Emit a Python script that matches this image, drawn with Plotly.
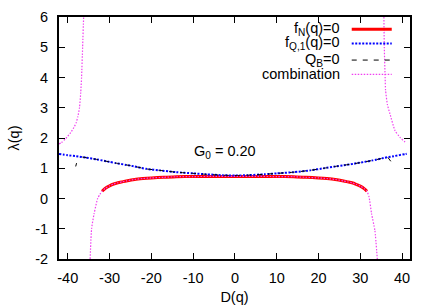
import plotly.graph_objects as go

# ---- data ----
fN_D = [-31.8, -31.0, -30.0, -29.0, -28.0, -27.0, -26.0, -24.0, -22.0, -20.0, -17.0, -14.0,
        -10.0, -5.0, 0.0, 5.0, 10.0, 14.0, 17.0, 20.0, 22.0, 24.0, 26.0, 27.0, 28.0, 29.0,
        30.0, 31.0, 31.6]
fN_L = [0.24, 0.34, 0.42, 0.48, 0.52, 0.55, 0.58, 0.63, 0.66, 0.68, 0.70, 0.72,
        0.725, 0.73, 0.73, 0.73, 0.725, 0.72, 0.70, 0.68, 0.66, 0.63, 0.58, 0.55, 0.52, 0.47,
        0.41, 0.32, 0.24]

fQ_D = [-42.1, -40.0, -38.0, -35.6, -33.0, -30.0, -28.5, -26.0, -24.0, -21.3, -18.0, -14.1,
        -10.0, -6.9, -3.0, 0.0, 3.0, 7.0, 10.0, 14.1, 18.0, 21.3, 24.0, 26.0, 28.5, 31.0,
        33.0, 35.6, 38.0, 40.8, 41.1]
fQ_L = [1.47, 1.43, 1.40, 1.35, 1.29, 1.21, 1.17, 1.11, 1.06, 0.98, 0.93, 0.87,
        0.83, 0.80, 0.77, 0.76, 0.77, 0.80, 0.83, 0.87, 0.93, 1.00, 1.06, 1.10, 1.15, 1.21,
        1.26, 1.34, 1.40, 1.47, 1.48]

# Q_B = 0: main branch (on top of f_Q,1) plus two short pieces near the edges
QB_D = [-36.5, -35.6, -33.0, -30.0, -28.5, -26.0, -24.0, -21.3, -18.0, -14.1, -10.0, -6.9,
        -3.0, 0.0, 3.0, 7.0, 10.0, 14.1, 18.0, 21.3, 24.0, 26.0, 28.5, 31.0, 33.0, 35.6,
        None, -38.1, -37.9, None, 36.6, 37.3]
QB_L = [1.37, 1.35, 1.29, 1.21, 1.17, 1.11, 1.06, 0.98, 0.93, 0.87, 0.83, 0.80,
        0.77, 0.76, 0.77, 0.80, 0.83, 0.87, 0.93, 1.00, 1.06, 1.10, 1.15, 1.21, 1.26, 1.34,
        None, 1.06, 1.17, None, 1.36, 1.23]

comb_D = [-42.1, -41.5, -40.5, -39.3, -38.4, -38.0, -37.6, -37.2, -36.9, -36.7, -36.45, -36.2, -36.0,
          None,
          -34.65, -34.3, -33.7, -32.85, -32.3, -31.8, -31.0, -30.0, -29.0, -28.0, -27.0, -26.0,
          -24.0, -22.0, -20.0, -17.0, -14.0, -10.0, -5.0, 0.0, 5.0, 10.0, 14.0, 17.0, 20.0,
          22.0, 24.0, 26.0, 27.0, 28.0, 29.0, 30.0, 31.0, 31.6, 32.1, 32.7, 33.5, 34.1,
          None,
          35.6, 35.75, 35.95, 36.05, 36.5, 37.1, 38.3, 39.5, 40.7, 40.9]
comb_L = [1.80, 1.85, 1.98, 2.18, 2.38, 2.50, 2.70, 3.00, 3.50, 4.00, 5.00, 6.00, 6.6,
          None,
          -2.0, -1.0, -0.5, 0.0, 0.14, 0.24, 0.34, 0.42, 0.48, 0.52, 0.55, 0.58,
          0.63, 0.66, 0.68, 0.70, 0.72, 0.725, 0.73, 0.73, 0.73, 0.725, 0.72, 0.70, 0.68,
          0.66, 0.63, 0.58, 0.55, 0.52, 0.47, 0.41, 0.32, 0.24, 0.05, -0.5, -1.06, -2.05,
          None,
          6.6, 5.0, 4.0, 3.58, 3.1, 2.8, 2.25, 2.02, 1.87, 1.85]

x_ticks = [-40, -30, -20, -10, 0, 10, 20, 30, 40]
y_ticks = [-2, -1, 0, 1, 2, 3, 4, 5, 6]
legend_names = ["f<sub>N</sub>(q)=0", "f<sub>Q,1</sub>(q)=0", "Q<sub>B</sub>=0", "combination"]
note_text = "G<sub>0</sub> = 0.20"

FONT = "Liberation Sans, Arial, sans-serif"
FS = 14.5
styles = [
    dict(color="#ff0000", width=3, dash="solid"),
    dict(color="#0000ff", width=2, dash="2px,1.5px"),
    dict(color="#000000", width=1, dash="5px,6px"),
    dict(color="#f040f0", width=1.2, dash="1.5px,1.5px"),
]

fig = go.Figure()
series = [(fN_D, fN_L), (fQ_D, fQ_L), (QB_D, QB_L), (comb_D, comb_L)]
for (xs, ys), st, nm in zip(series, styles, legend_names):
    fig.add_trace(go.Scatter(x=xs, y=ys, mode="lines", name=nm,
                             line=dict(shape="spline", smoothing=0.5, **st),
                             showlegend=False, connectgaps=False, hoverinfo="skip"))

# gnuplot-style key: right-aligned text, sample line to its right
row_y = [0.949, 0.891, 0.822, 0.763]
for nm, st, yy in zip(legend_names, styles, row_y):
    fig.add_annotation(x=0.807, y=yy, xref="paper", yref="paper", text=nm, showarrow=False,
                       xanchor="right", yanchor="middle", font=dict(family=FONT, size=FS, color="black"))
    fig.add_shape(type="line", xref="paper", yref="paper", x0=0.834, x1=0.948, y0=yy, y1=yy,
                  line=dict(color=st["color"], width=st["width"], dash=st["dash"]))

fig.add_annotation(x=-2.4, y=1.55, text=note_text, showarrow=False, xanchor="center", yanchor="middle",
                   font=dict(family=FONT, size=FS, color="black"))

axis_common = dict(showline=True, linecolor="black", linewidth=2, mirror="allticks", ticks="inside",
                   ticklen=6, tickwidth=1, tickcolor="black", showgrid=False, zeroline=False,
                   automargin=False, tickfont=dict(family=FONT, size=FS, color="black"))
fig.update_xaxes(range=[-42.1, 41.9], tickvals=x_ticks, ticktext=[str(v) for v in x_ticks],
                 ticklabelstandoff=5,
                 title=dict(text="D(q)", font=dict(family=FONT, size=FS, color="black"), standoff=11),
                 **axis_common)
fig.update_yaxes(range=[-2, 6], tickvals=y_ticks, ticktext=[str(v) for v in y_ticks],
                 ticklabelstandoff=6,
                 title=dict(text="λ(q)", font=dict(family=FONT, size=FS, color="black"), standoff=12),
                 **axis_common)

fig.update_layout(width=436, height=305, autosize=False, margin=dict(l=59, r=26, t=17, b=46),
                  paper_bgcolor="white", plot_bgcolor="white", showlegend=False,
                  font=dict(family=FONT, size=FS, color="black"))

fig.write_html("out.html", config={"displayModeBar": False, "staticPlot": True},
               post_script="document.body.style.margin='0';document.body.style.overflow='hidden';")
